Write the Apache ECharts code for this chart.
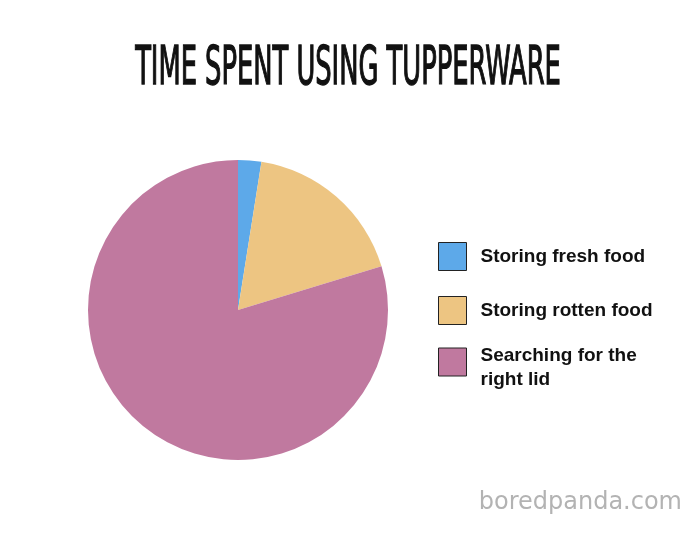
<!DOCTYPE html>
<html>
<head>
<meta charset="utf-8">
<script src="https://cdn.jsdelivr.net/npm/echarts@6/dist/echarts.min.js"></script>
<style>html,body{margin:0;padding:0;background:#fff}#chart{width:700px;height:536px}</style>
</head>
<body>
<div id="chart"></div>
<script>
const categories = ['Storing fresh food', 'Storing rotten food', 'Searching for the right lid'];
const legendLabels = ['{a|Storing fresh food}', '{a|Storing rotten food}', '{s| }\n{a|Searching for the}\n{a|right lid}'];
const values = [2.5, 17.8, 79.7];
const colors = ['#5DA9E9', '#EDC582', '#C0799F'];
const titleText = 'TIME SPENT USING TUPPERWARE';

const legendTops = [242, 296, 333];
const textRich = {
  a: {
    fontFamily: 'Liberation Sans',
    fontWeight: 'bold',
    fontSize: 19,
    lineHeight: 24,
    color: '#111'
  },
  s: { fontSize: 10, lineHeight: 12 }
};

function makeLegend(i) {
  return {
    orient: 'vertical',
    left: 438,
    top: legendTops[i],
    padding: 0,
    itemWidth: 28,
    itemHeight: 28,
    icon: 'rect',
    selectedMode: false,
    itemStyle: { borderColor: '#222', borderWidth: 1 },
    formatter: function (name) { return legendLabels[categories.indexOf(name)]; },
    textStyle: {
      fontFamily: 'Liberation Sans',
      fontWeight: 'bold',
      fontSize: 19,
      color: '#111',
      padding: [0, 0, 0, 9],
      rich: textRich
    },
    data: [categories[i]]
  };
}

const chart = echarts.init(document.getElementById('chart'));
chart.setOption({
  backgroundColor: '#ffffff',
  animation: false,
  legend: [makeLegend(0), makeLegend(1), makeLegend(2)],
  series: [{
    type: 'pie',
    center: [238, 310],
    radius: 150,
    startAngle: 90,
    clockwise: true,
    label: { show: false },
    labelLine: { show: false },
    emphasis: { disabled: true },
    data: categories.map((c, i) => ({ name: c, value: values[i], itemStyle: { color: colors[i] } }))
  }],
  graphic: [{
    type: 'text',
    x: 348,
    y: 43,
    scaleX: 0.53,
    style: {
      text: titleText,
      fontFamily: 'DejaVu Sans Condensed',
      fontSize: 54,
      fill: '#111',
      stroke: '#111',
      lineWidth: 1.4,
      textAlign: 'center',
      textVerticalAlign: 'top'
    }
  }, {
    type: 'text',
    right: 18,
    top: 491,
    style: {
      text: 'boredpanda.com',
      fontFamily: 'DejaVu Sans',
      fontSize: 24,
      fill: '#b3b3b3'
    }
  }]
});
</script>
</body>
</html>
